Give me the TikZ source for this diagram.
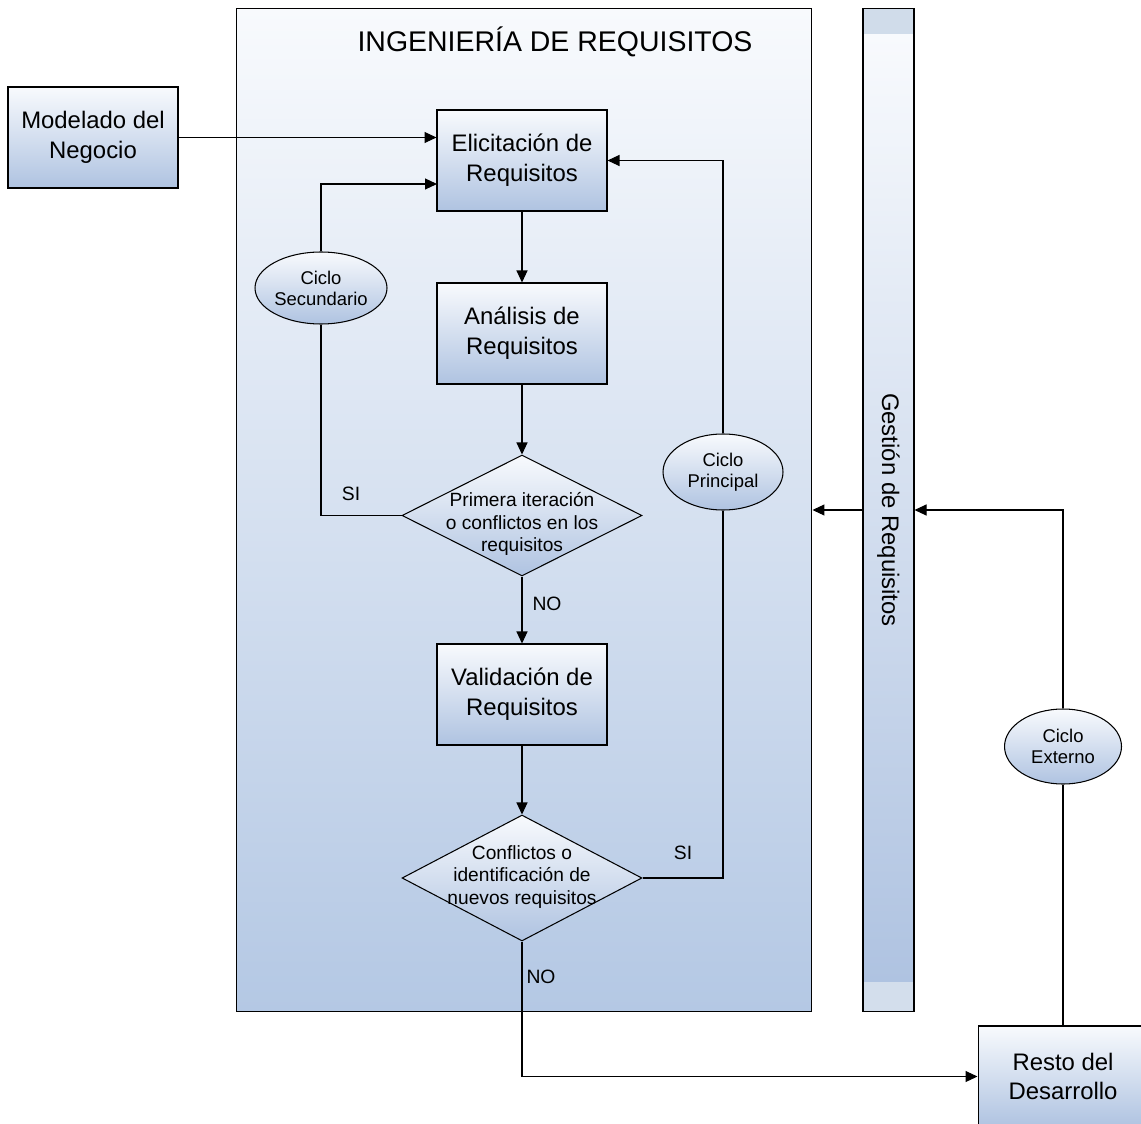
\documentclass[tikz,border=0pt]{standalone}
\usepackage{fontspec}
\setmainfont{Liberation Sans}
\usetikzlibrary{arrows.meta,shapes.geometric,shadings}

\definecolor{shadeTop}{HTML}{F8FAFD}
\definecolor{shadeBot}{HTML}{AFC3E1}
\definecolor{panelBot}{HTML}{B4C8E4}
\definecolor{bandTop}{HTML}{D0DCEA}
\definecolor{bandBot}{HTML}{D3DEEC}

\tikzset{
  line/.style={line width=0.6pt, draw=black},
  arr/.style={line, -{Triangle[length=0.24cm,width=0.22cm]}},
  procbox/.style={draw=black, line width=0.6pt, top color=shadeTop, bottom color=shadeBot,
    minimum width=3.4cm, minimum height=2.02cm, inner sep=0pt, align=center,
    font=\fontsize{13.6}{17}\selectfont},
  decision/.style={diamond, draw=black, line width=0.6pt, top color=shadeTop, bottom color=shadeBot,
    inner sep=0pt, minimum width=4.8cm},
  dtext/.style={align=center, inner sep=0pt, font=\fontsize{10.9}{13}\selectfont},
  cycle/.style={ellipse, draw=black, line width=0.6pt, top color=shadeTop, bottom color=shadeBot,
    inner sep=0pt, align=center, font=\fontsize{10.5}{12}\selectfont},
  answer/.style={inner sep=0pt, font=\fontsize{11}{13}\selectfont},
}

\begin{document}
\begin{tikzpicture}[x=0.02cm, y=-0.02cm]
\useasboundingbox (0,0) rectangle (1141,1124);

% requirements engineering panel
\node[draw=black, line width=0.6pt, top color=shadeTop, bottom color=panelBot,
      minimum width=11.52cm, minimum height=20.08cm, inner sep=0pt] (panel) at (524,510) {};
\node[font=\fontsize{16.2}{19}\selectfont] (title) at (555,42) {INGENIERÍA DE REQUISITOS};

% requirements management bar
\fill[bandTop] (863,8) rectangle (914,35);
\shade[top color=shadeTop, bottom color=shadeBot] (863,35) rectangle (914,982);
\fill[bandBot] (863,982) rectangle (914,1012);
\node[draw=black, line width=0.6pt, minimum width=1.02cm, minimum height=20.08cm, inner sep=0pt] (gest) at (888.5,510) {};
\node[rotate=-90, font=\fontsize{13.6}{17}\selectfont] (gestlbl) at (888.5,510) {Gestión de Requisitos};

% process boxes
\node[procbox] (mod) at (93,137.5) {Modelado del\\Negocio};
\node[procbox] (eli) at (522,160.5) {Elicitación de\\Requisitos};
\node[procbox] (ana) at (522,333.5) {Análisis de\\Requisitos};
\node[procbox] (val) at (522,694.5) {Validación de\\Requisitos};
\node[procbox] (resto) at (1063,1076.5) {Resto del\\Desarrollo};

% decisions
\node[decision, minimum height=2.42cm] (d1) at (522,515.5) {};
\node[dtext] (d1t) at (522,524) {Primera iteración\\o conflictos en los\\requisitos};
\node[decision, minimum height=2.52cm] (d2) at (522,878) {};
\node[dtext] (d2t) at (522,877) {Conflictos o\\identificación de\\nuevos requisitos};

% cycle markers
\node[cycle, minimum width=2.32cm, minimum height=1.44cm] (cs) at (321,288) {Ciclo\\Secundario};
\node[cycle, minimum width=2.4cm, minimum height=1.52cm] (cp) at (723,472) {Ciclo\\Principal};
\node[cycle, minimum width=2.34cm, minimum height=1.5cm] (ce) at (1063,746.5) {Ciclo\\Externo};

\coordinate (eliIn) at (437,184);

% main flow
\draw[arr] (mod.east) -- (eli.west |- mod.east);
\draw[arr] (eli.south) -- (ana.north);
\draw[arr] (ana.south) -- (d1.north);
\draw[arr] (d1.south) -- (val.north);
\draw[arr] (val.south) -- (d2.north);

% secondary cycle
\draw[line] (d1.west) -| (cs.south);
\draw[arr] (cs.north) |- (eliIn);

% main cycle
\draw[line] (d2.east) -| (cp.south);
\draw[arr] (cp.north) |- (eli.east);

% exit and external cycle
\draw[arr] (d2.south) |- (resto.west);
\draw[line] (resto.north) -- (ce.south);
\draw[arr] (ce.north) |- (gest.east);
\draw[arr] (gest.west) -- (panel.east);

% branch labels
\node[answer] (si1) at (351,494) {SI};
\node[answer] (no1) at (547,604) {NO};
\node[answer] (si2) at (683,853) {SI};
\node[answer] (no2) at (541,977) {NO};
\end{tikzpicture}
\end{document}
